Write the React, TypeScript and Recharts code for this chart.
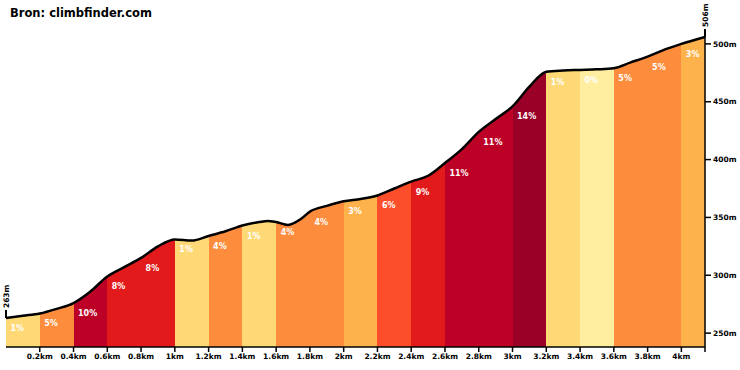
import React from 'react';
import { ComposedChart, Area, XAxis, YAxis, Scatter } from 'recharts';

const profileDist = [0, 0.1, 0.2, 0.3, 0.4, 0.5, 0.6, 0.7, 0.8, 0.9, 1.0, 1.1, 1.2, 1.3, 1.4, 1.5, 1.55, 1.6, 1.67, 1.75, 1.8, 1.9, 2.0, 2.1, 2.2, 2.3, 2.4, 2.5, 2.6, 2.7, 2.8, 2.9, 3.0, 3.1, 3.2, 3.3, 3.4, 3.5, 3.6, 3.7, 3.8, 3.9, 4.0, 4.14];
const profileElev = [263, 265, 267, 271, 276, 286, 299, 307, 315, 325, 331, 330, 334, 338, 343, 346, 347, 346, 343.5, 349, 355, 360, 364, 366, 369, 375, 381, 386, 397, 409, 424, 435, 446, 463, 476, 477, 477.5, 478, 479, 484, 489, 495, 500, 506];

const segStarts = [0, 0.2, 0.4, 0.6, 0.8, 1.0, 1.2, 1.4, 1.6, 1.8, 2.0, 2.2, 2.4, 2.6, 2.8, 3.0, 3.2, 3.4, 3.6, 3.8, 4.0];
const segGrades = [1, 5, 10, 8, 8, 1, 4, 1, 4, 4, 3, 6, 9, 11, 11, 14, 1, 0, 5, 5, 3];
const segColors = ['#FED976', '#FD8D3C', '#BD0026', '#E31A1C', '#E31A1C', '#FED976', '#FD8D3C', '#FED976', '#FD8D3C', '#FD8D3C', '#FEB24C', '#FC4E2A', '#E31A1C', '#BD0026', '#BD0026', '#9A0027', '#FED976', '#FFEDA0', '#FD8D3C', '#FD8D3C', '#FEB24C'];

const xTicks = [0.2, 0.4, 0.6, 0.8, 1, 1.2, 1.4, 1.6, 1.8, 2, 2.2, 2.4, 2.6, 2.8, 3, 3.2, 3.4, 3.6, 3.8, 4, 4.14];
const yTicks = [250, 300, 350, 400, 450, 500];
const title = 'Bron: climbfinder.com';

const maxDist = profileDist[profileDist.length - 1];
const profile = profileDist.map((d, i) => ({ d, e: profileElev[i] }));
const labelData = segStarts.map((s, i) => {
  const idx = profileDist.findIndex((d) => Math.abs(d - s) < 1e-9);
  return { d: s, e: profileElev[idx], label: `${segGrades[i]}%` };
});
const endData = [
  { d: profileDist[0], e: profileElev[0], label: `${profileElev[0]}m` },
  { d: maxDist, e: profileElev[profileElev.length - 1], label: `${profileElev[profileElev.length - 1]}m` },
];

const FONT = '"DejaVu Sans", Verdana, sans-serif';

const PctLabel = (props: any) => {
  const { cx, cy, payload } = props;
  return (
    <text x={cx + 4.5} y={cy + 13} fill="#fff" fontSize={8} fontWeight="bold" fontFamily={FONT}>
      {payload.label}
    </text>
  );
};

const EndLabel = (props: any) => {
  const { cx, cy, payload } = props;
  const tx = cx + 3;
  const ty = cy - 10;
  return (
    <g>
      <line x1={cx} y1={cy} x2={cx} y2={cy - 8} stroke="#000" strokeWidth={2} />
      <text x={tx} y={ty} transform={`rotate(-90 ${tx} ${ty})`} fill="#000" fontSize={7.5} fontWeight="bold" fontFamily={FONT}>
        {payload.label}
      </text>
    </g>
  );
};

export default function App() {
  const stops: React.ReactNode[] = [];
  segStarts.forEach((s, i) => {
    const end = i + 1 < segStarts.length ? segStarts[i + 1] : maxDist;
    stops.push(<stop key={`a${i}`} offset={s / maxDist} stopColor={segColors[i]} />);
    stops.push(<stop key={`b${i}`} offset={end / maxDist} stopColor={segColors[i]} />);
  });
  const tickStyle = { fontSize: 7.5, fontWeight: 'bold' as const, fill: '#000', fontFamily: FONT };
  return (
    <div style={{ position: 'absolute', left: 0, top: 0, width: 740, height: 370, background: '#fff' }}>
      <div style={{ position: 'absolute', left: 10, top: 6, fontFamily: FONT, fontWeight: 'bold', fontSize: 11.5, lineHeight: '14px', color: '#000' }}>
        {title}
      </div>
      <ComposedChart width={740} height={370} data={profile} margin={{ top: 30, right: 0, bottom: 0, left: 6 }}>
        <defs>
          <linearGradient id="segGrad" x1="0" y1="0" x2="1" y2="0">
            {stops}
          </linearGradient>
        </defs>
        <XAxis
          dataKey="d"
          type="number"
          domain={[0, maxDist]}
          ticks={xTicks}
          interval={0}
          tickFormatter={(v: number) => (v >= maxDist - 1e-6 ? '' : `${v}km`)}
          height={23}
          axisLine={{ stroke: '#000', strokeWidth: 1.5 }}
          tickLine={{ stroke: '#000', strokeWidth: 1.5 }}
          tickSize={5}
          tick={tickStyle}
        />
        <YAxis
          orientation="right"
          type="number"
          domain={[238, 512]}
          ticks={yTicks}
          interval={0}
          tickFormatter={(v: number) => `${v}m`}
          width={35}
          axisLine={{ stroke: '#000', strokeWidth: 1.5 }}
          tickLine={{ stroke: '#000', strokeWidth: 1.5 }}
          tickSize={6}
          tick={{ ...tickStyle, textAnchor: 'start' }}
        />
        <Area
          dataKey="e"
          type="monotone"
          stroke="#000"
          strokeWidth={2.5}
          fill="url(#segGrad)"
          fillOpacity={1}
          isAnimationActive={false}
          dot={false}
          activeDot={false}
        />
        <Scatter data={labelData} dataKey="e" shape={PctLabel} isAnimationActive={false} />
        <Scatter data={endData} dataKey="e" shape={EndLabel} isAnimationActive={false} />
      </ComposedChart>
    </div>
  );
}
